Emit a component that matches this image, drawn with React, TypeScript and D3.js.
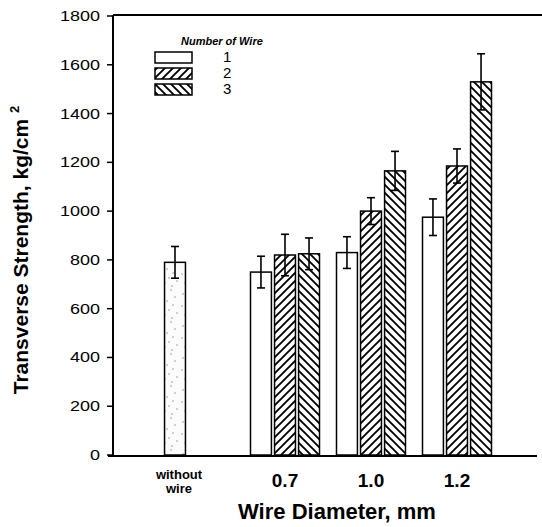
import React from "react";
import * as d3 from "d3";

const width = 542;
const height = 527;
const margin = { top: 16, right: 5, bottom: 72, left: 113 };

// data
const groups = ["0.7", "1.0", "1.2"];
const wireCounts = ["1", "2", "3"];
const wire1 = [750, 830, 975];
const wire1Err = [65, 65, 75];
const wire2 = [820, 1000, 1185];
const wire2Err = [85, 55, 70];
const wire3 = [825, 1165, 1530];
const wire3Err = [65, 80, 115];
const withoutWire = 790;
const withoutWireErr = 65;
const yTicks = [0, 200, 400, 600, 800, 1000, 1200, 1400, 1600, 1800];

// a few gray specks for the "without wire" stipple
const specks = [
  [3, 6], [11, 2], [7, 13], [15, 9], [2, 18], [13, 17], [9, 22], [17, 25], [5, 27], [12, 30],
];

const series = [
  { key: "1", values: wire1, errs: wire1Err, fill: "#fff" },
  { key: "2", values: wire2, errs: wire2Err, fill: "url(#hatchFwd)" },
  { key: "3", values: wire3, errs: wire3Err, fill: "url(#hatchBack)" },
];

const font = "'Liberation Sans', Arial, sans-serif";

const App = () => {
  const y = d3.scaleLinear().domain([0, 1800]).range([height - margin.bottom, margin.top]);

  // group centres: the without-wire bar sits left with a wider gap
  const xGroup = d3.scalePoint().domain(groups).range([285, 457]);
  const withoutX = 175;
  const inner = d3.scaleBand().domain(wireCounts).range([-34.5, 34.5]).paddingInner(0.13);
  const bw = inner.bandwidth();
  const y0 = y(0);

  const errBar = (cx, v, e, k) => (
    <g key={k} stroke="#000" strokeWidth={1.6}>
      <line x1={cx} x2={cx} y1={y(v + e)} y2={y(v - e)} />
      <line x1={cx - 4} x2={cx + 4} y1={y(v + e)} y2={y(v + e)} />
      <line x1={cx - 4} x2={cx + 4} y1={y(v - e)} y2={y(v - e)} />
    </g>
  );

  return (
    <svg width={width} height={height} style={{ position: "absolute", left: 0, top: 0 }} fontFamily={font}>
      <defs>
        <pattern id="hatchFwd" width={8} height={8} patternUnits="userSpaceOnUse">
          <path d="M-2,2 L2,-2 M0,8 L8,0 M6,10 L10,6" stroke="#000" strokeWidth={1.9} />
        </pattern>
        <pattern id="hatchBack" width={8} height={8} patternUnits="userSpaceOnUse">
          <path d="M-2,6 L2,10 M0,0 L8,8 M6,-2 L10,2" stroke="#000" strokeWidth={1.9} />
        </pattern>
        <pattern id="stipple" width={20} height={32} patternUnits="userSpaceOnUse">
          <rect width={20} height={32} fill="#fcfcfc" />
          {specks.map(([sx, sy], i) => (
            <circle key={i} cx={sx} cy={sy} r={0.8} fill="#999" />
          ))}
        </pattern>
      </defs>

      {/* frame */}
      <line x1={margin.left} x2={width} y1={margin.top - 1} y2={margin.top - 1} stroke="#000" strokeWidth={2} />
      <line x1={margin.left} x2={margin.left} y1={margin.top - 1} y2={y0 + 1} stroke="#000" strokeWidth={2} />
      <line x1={margin.left - 5} x2={width - 5} y1={y0 + 1} y2={y0 + 1} stroke="#000" strokeWidth={2} />

      {/* y ticks */}
      {yTicks.map((t) => (
        <g key={t}>
          <line x1={margin.left - 6} x2={margin.left} y1={y(t)} y2={y(t)} stroke="#000" strokeWidth={1.5} />
          <text x={margin.left - 13} y={y(t)} dy="0.36em" textAnchor="end" fontSize={14}
            textLength={String(t).length * 10} lengthAdjust="spacingAndGlyphs">
            {t}
          </text>
        </g>
      ))}

      {/* without wire bar */}
      <rect x={withoutX - bw / 2} y={y(withoutWire)} width={bw} height={y0 - y(withoutWire)}
        fill="url(#stipple)" stroke="#000" strokeWidth={1.5} />
      {errBar(withoutX, withoutWire, withoutWireErr, "ww")}

      {/* wire bars */}
      {series.map((s) =>
        groups.map((g, i) => {
          const cx = xGroup(g) + inner(s.key) + bw / 2;
          return (
            <g key={s.key + g}>
              <rect x={cx - bw / 2} y={y(s.values[i])} width={bw} height={y0 - y(s.values[i])}
                fill={s.fill} stroke="#000" strokeWidth={1.5} />
              {errBar(cx, s.values[i], s.errs[i], "e")}
            </g>
          );
        })
      )}

      {/* x labels */}
      <text x={withoutX + 4} y={479} textAnchor="middle" fontSize={13} fontWeight="bold">without</text>
      <text x={withoutX + 4} y={493} textAnchor="middle" fontSize={13} fontWeight="bold">wire</text>
      {groups.map((g) => (
        <text key={g} x={xGroup(g)} y={487} textAnchor="middle" fontSize={19} fontWeight="bold">
          {g}
        </text>
      ))}
      <text x={337} y={519} textAnchor="middle" fontSize={22} fontWeight="bold">
        Wire Diameter, mm
      </text>
      <text transform={`translate(28,${250}) rotate(-90)`} textAnchor="middle" fontSize={21} fontWeight="bold">
        Transverse Strength, kg/cm <tspan fontSize={13} dy={-9}>2</tspan>
      </text>

      {/* legend */}
      <text x={181} y={45} fontSize={11} fontWeight="bold" fontStyle="italic">Number of  Wire</text>
      {series.map((s, i) => (
        <g key={s.key} transform={`translate(0,${57 + i * 16})`}>
          <rect x={155} y={-5} width={37} height={11} fill={s.fill} stroke="#000" strokeWidth={1.5} />
          <text x={223} y={0} dy="0.36em" fontSize={15}>{s.key}</text>
        </g>
      ))}
    </svg>
  );
};

export default App;
